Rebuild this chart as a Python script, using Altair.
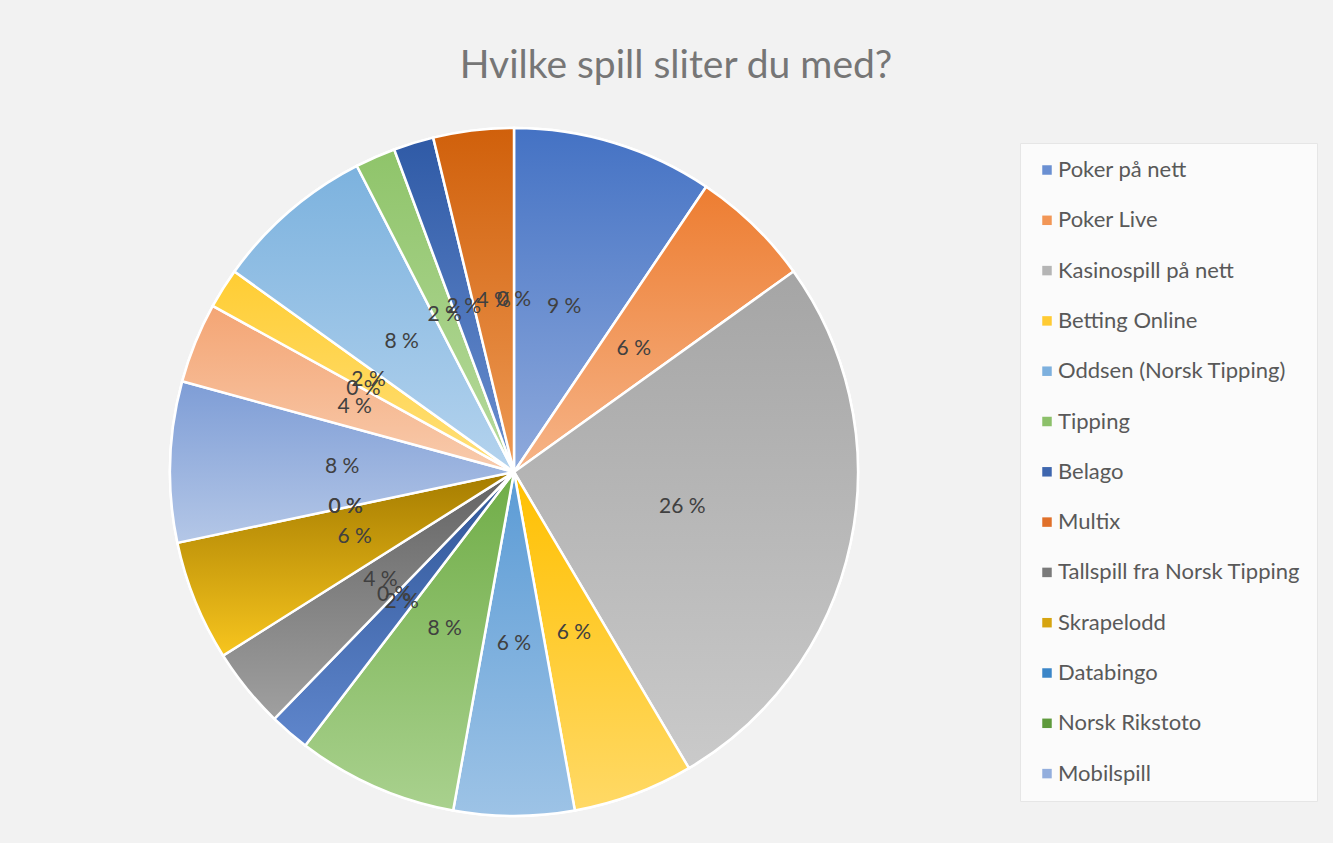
import altair as alt
import pandas as pd

# ---- data ----
names = [
    "Poker på nett", "Poker Live", "Kasinospill på nett", "Betting Online",
    "Oddsen (Norsk Tipping)", "Tipping", "Belago", "Multix",
    "Tallspill fra Norsk Tipping", "Skrapelodd", "Databingo", "Norsk Rikstoto",
    "Mobilspill", "Kategori 14", "Kategori 15", "Kategori 16", "Kategori 17",
    "Kategori 18", "Kategori 19", "Kategori 20", "Kategori 21",
]
# answers per category (shares shown on the chart: 9 %, 6 %, 26 %, ...)
counts = [5, 3, 14, 3, 3, 4, 1, 0, 2, 3, 0, 0, 4, 2, 0, 1, 4, 1, 1, 2, 0]
legend_names = names[:13]

# ---- styles ----
mid_colors = [
    "#6A8FD2", "#F29656", "#B5B5B5", "#FFCB33", "#7DB0DE", "#8CC06A",
    "#3E66AE", "#E0702A", "#7A7A7A", "#D6A410", "#3B86C8", "#5E9A3C",
    "#93AEDD", "#F6B48A", "#C4C4C4", "#FFD657", "#98C2E7", "#A2CE83",
    "#4770B8", "#E07A2E", "#939393",
]
top_colors = [
    "#4472C4", "#ED7D31", "#A5A5A5", "#FFC000", "#5B9BD5", "#70AD47",
    "#2F5597", "#C55A11", "#636363", "#A57C00", "#2E75B6", "#548235",
    "#7E9DD6", "#F4A574", "#B7B7B7", "#FFCD33", "#7CB2DE", "#8FC46A",
    "#2F5AA6", "#D0600B", "#848484",
]
bottom_colors = [
    "#8FAADC", "#F6B488", "#CACACA", "#FFD966", "#9DC3E6", "#A9D18E",
    "#5F86CC", "#F0A060", "#A0A0A0", "#F7C51E", "#6FA8DC", "#93C47D",
    "#B4C7E7", "#F8CBAD", "#D0D0D0", "#FFE07A", "#B4D3EE", "#B7DA9D",
    "#6A8FD0", "#EE9A55", "#B0B0B0",
]

df = pd.DataFrame({"idx": list(range(len(names))), "name": names, "n": counts})
total = sum(counts)

R = 344
theta_scale = alt.Scale(domain=[0, total])

base = alt.Chart(df).transform_joinaggregate(
    tot="sum(n)"
).transform_window(
    cum="sum(n)", sort=[alt.SortField("idx")], frame=[None, 0]
).transform_calculate(
    start="datum.cum - datum.n",
    mid="datum.cum - datum.n / 2",
    label="round(datum.n / datum.tot * 100) + ' %'",
)

color_enc = alt.Color(
    "name:N",
    sort=names,
    scale=alt.Scale(domain=names, range=mid_colors),
    legend=alt.Legend(
        values=legend_names,
        title=None,
        orient="none",
        legendX=850,
        legendY=15,
        symbolType="square",
        symbolSize=90,
        symbolStrokeWidth=0,
        symbolOpacity=1,
        labelFont="Lato",
        labelFontSize=22,
        labelColor="#595959",
        labelOffset=0,
        labelLimit=400,
        rowPadding=28.3,
        padding=16,
        fillColor="#FBFBFB",
        strokeColor="#E6E6E6",
    ),
)

base_arc = base.mark_arc(outerRadius=R, stroke="white", strokeWidth=2.5).encode(
    theta=alt.Theta("start:Q", scale=theta_scale, stack=None),
    theta2="cum:Q",
    color=color_enc,
)

layers = [base_arc]
for i in range(len(names)):
    if counts[i] == 0:
        continue
    grad = alt.LinearGradient(
        gradient="linear",
        x1=0, y1=0, x2=0, y2=1,
        stops=[
            alt.GradientStop(color=top_colors[i], offset=0),
            alt.GradientStop(color=bottom_colors[i], offset=1),
        ],
    )
    layers.append(
        base.transform_filter(alt.datum.idx == i)
        .mark_arc(outerRadius=R, stroke="white", strokeWidth=2.5, fill=grad)
        .encode(
            theta=alt.Theta("start:Q", scale=theta_scale, stack=None),
            theta2="cum:Q",
        )
    )

labels = base.mark_text(
    radius=172, font="Lato", fontSize=21, color="#404040",
    align="center", baseline="middle",
).encode(
    theta=alt.Theta("mid:Q", scale=theta_scale, stack=None),
    text="label:N",
)
layers.append(labels)

chart = alt.layer(*layers).properties(
    width=2 * R,
    height=2 * R,
    autosize=alt.AutoSizeParams(type="none"),
    padding={"left": 170, "top": 128, "right": 1333 - 170 - 2 * R, "bottom": 843 - 128 - 2 * R},
    background="#F2F2F2",
    title=alt.TitleParams(
        "Hvilke spill sliter du med?",
        font="Lato",
        fontSize=39,
        fontWeight="normal",
        color="#767676",
        anchor="middle",
        baseline="alphabetic",
        offset=51,
        dx=162,
        dy=45,
    ),
).configure_view(strokeWidth=0)

chart.save("out.html", embed_options={"renderer": "svg", "actions": False})
